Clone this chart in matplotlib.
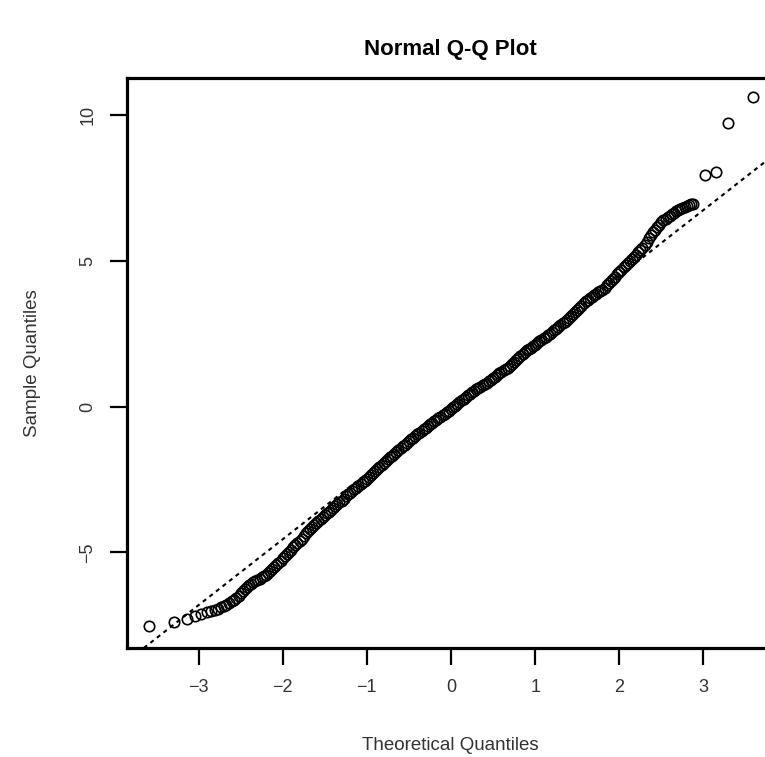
import numpy as np
import matplotlib
matplotlib.use('Agg')
import matplotlib.pyplot as plt

# Theoretical quantiles (x) and sample quantiles (y)
tail_low_x = [-3.59, -3.29, -3.14, -3.04, -2.97, -2.90, -2.85, -2.81, -2.77, -2.73, -2.70, -2.67, -2.64]
tail_low_y = [-7.52, -7.40, -7.30, -7.18, -7.10, -7.05, -7.00, -6.97, -6.93, -6.89, -6.85, -6.80, -6.75]

band_x = [-2.600, -2.575, -2.550, -2.525, -2.500, -2.475, -2.450, -2.425, -2.400, -2.375,
          -2.350, -2.325, -2.300, -2.275, -2.250, -2.225, -2.200, -2.175, -2.150, -2.125,
          -2.100, -2.075, -2.050, -2.025, -2.000, -1.975, -1.950, -1.925, -1.900, -1.875,
          -1.850, -1.825, -1.800, -1.775, -1.750, -1.725, -1.700, -1.675, -1.650, -1.625,
          -1.600, -1.575, -1.550, -1.525, -1.500, -1.475, -1.450, -1.425, -1.400, -1.375,
          -1.350, -1.325, -1.300, -1.275, -1.250, -1.225, -1.200, -1.175, -1.150, -1.125,
          -1.100, -1.075, -1.050, -1.025, -1.000, -0.975, -0.950, -0.925, -0.900, -0.875,
          -0.850, -0.825, -0.800, -0.775, -0.750, -0.725, -0.700, -0.675, -0.650, -0.625,
          -0.600, -0.575, -0.550, -0.525, -0.500, -0.475, -0.450, -0.425, -0.400, -0.375,
          -0.350, -0.325, -0.300, -0.275, -0.250, -0.225, -0.200, -0.175, -0.150, -0.125,
          -0.100, -0.075, -0.050, -0.025, 0.000, 0.025, 0.050, 0.075, 0.100, 0.125,
          0.150, 0.175, 0.200, 0.225, 0.250, 0.275, 0.300, 0.325, 0.350, 0.375,
          0.400, 0.425, 0.450, 0.475, 0.500, 0.525, 0.550, 0.575, 0.600, 0.625,
          0.650, 0.675, 0.700, 0.725, 0.750, 0.775, 0.800, 0.825, 0.850, 0.875,
          0.900, 0.925, 0.950, 0.975, 1.000, 1.025, 1.050, 1.075, 1.100, 1.125,
          1.150, 1.175, 1.200, 1.225, 1.250, 1.275, 1.300, 1.325, 1.350, 1.375,
          1.400, 1.425, 1.450, 1.475, 1.500, 1.525, 1.550, 1.575, 1.600, 1.625,
          1.650, 1.675, 1.700, 1.725, 1.750, 1.775, 1.800, 1.825, 1.850, 1.875,
          1.900, 1.925, 1.950, 1.975, 2.000, 2.025, 2.050, 2.075, 2.100, 2.125,
          2.150, 2.175, 2.200, 2.225, 2.250, 2.275, 2.300, 2.325, 2.350, 2.375,
          2.400, 2.425, 2.450, 2.475, 2.500, 2.525, 2.550, 2.575, 2.600, 2.625,
          2.650, 2.675, 2.700, 2.725, 2.750, 2.775, 2.800, 2.825, 2.850, 2.875]
band_y = [-6.68, -6.62, -6.55, -6.48, -6.40, -6.33, -6.25, -6.18, -6.12, -6.07,
          -6.03, -5.99, -5.95, -5.91, -5.86, -5.81, -5.76, -5.70, -5.64, -5.57,
          -5.50, -5.43, -5.35, -5.28, -5.20, -5.13, -5.05, -4.98, -4.90, -4.83,
          -4.76, -4.69, -4.62, -4.53, -4.44, -4.35, -4.27, -4.20, -4.13, -4.06,
          -4.00, -3.93, -3.86, -3.80, -3.73, -3.66, -3.60, -3.54, -3.48, -3.41,
          -3.35, -3.28, -3.22, -3.15, -3.08, -3.01, -2.95, -2.90, -2.84, -2.78,
          -2.72, -2.66, -2.60, -2.54, -2.48, -2.41, -2.34, -2.27, -2.20, -2.13,
          -2.06, -2.00, -1.93, -1.86, -1.80, -1.74, -1.68, -1.61, -1.55, -1.48,
          -1.42, -1.36, -1.30, -1.23, -1.17, -1.11, -1.06, -1.00, -0.95, -0.89,
          -0.84, -0.78, -0.73, -0.67, -0.61, -0.55, -0.50, -0.45, -0.40, -0.35,
          -0.30, -0.24, -0.19, -0.13, -0.08, -0.02, 0.03, 0.09, 0.15, 0.22,
          0.28, 0.34, 0.40, 0.45, 0.50, 0.55, 0.60, 0.64, 0.69, 0.73,
          0.78, 0.83, 0.88, 0.93, 0.98, 1.03, 1.09, 1.14, 1.20, 1.25,
          1.29, 1.33, 1.38, 1.45, 1.53, 1.60, 1.68, 1.75, 1.81, 1.87,
          1.93, 1.97, 2.02, 2.07, 2.12, 2.18, 2.24, 2.29, 2.35, 2.40,
          2.46, 2.51, 2.57, 2.62, 2.68, 2.74, 2.80, 2.86, 2.92, 2.98,
          3.05, 3.11, 3.18, 3.25, 3.32, 3.40, 3.47, 3.55, 3.62, 3.67,
          3.72, 3.77, 3.82, 3.87, 3.92, 3.97, 4.02, 4.09, 4.16, 4.23,
          4.30, 4.38, 4.46, 4.54, 4.62, 4.70, 4.78, 4.85, 4.93, 5.00,
          5.07, 5.14, 5.22, 5.30, 5.38, 5.46, 5.55, 5.66, 5.78, 5.89,
          6.00, 6.08, 6.17, 6.25, 6.33, 6.39, 6.45, 6.50, 6.55, 6.60,
          6.66, 6.70, 6.75, 6.79, 6.82, 6.85, 6.88, 6.91, 6.94, 6.97]

tail_high_x = [3.02, 3.15, 3.29, 3.59]
tail_high_y = [7.95, 8.05, 9.74, 10.62]

# reference line through the quartiles
line_slope = 2.26
line_intercept = -0.03

x_ticks = [-3, -2, -1, 0, 1, 2, 3]
y_ticks = [-5, 0, 5, 10]

theo = np.array(tail_low_x + band_x + tail_high_x)
samp = np.array(tail_low_y + band_y + tail_high_y)

plt.rcParams['font.family'] = ['Liberation Sans', 'DejaVu Sans']

fig = plt.figure(figsize=(7.65, 7.57), dpi=100)
ax = fig.add_axes([127 / 765, 109 / 757, 648 / 765, 570 / 757])

ax.plot(theo, samp, linestyle='none', marker='o', markersize=7.5,
        markerfacecolor='none', markeredgecolor='black', markeredgewidth=1.2,
        clip_on=False)
ax.axline((0, line_intercept), slope=line_slope, color='black',
          linewidth=1.5, linestyle=(0, (2, 2)))

ax.set_xlim(-3.85, 3.85)
ax.set_ylim(-8.28, 11.28)
ax.set_xticks(x_ticks)
ax.set_yticks(y_ticks)
ax.set_xticklabels([str(v) if v >= 0 else '\u2212' + str(-v) for v in x_ticks])
ax.set_yticklabels([str(v) if v >= 0 else '\u2212' + str(-v) for v in y_ticks],
                   rotation=90, va='center')
ax.tick_params(axis='both', direction='out', length=12, width=1.6,
               labelsize=13, labelcolor='#333333', pad=10)

for s in ax.spines.values():
    s.set_linewidth(2.3)

fig.text(450 / 765, 1 - 50 / 757, 'Normal Q-Q Plot', ha='center', va='center',
         fontsize=16, fontweight='bold')
fig.text(450 / 765, 1 - 745 / 757, 'Theoretical Quantiles', ha='center',
         va='center', fontsize=13.5, color='#333333')
fig.text(33 / 765, 1 - 363 / 757, 'Sample Quantiles', ha='center',
         va='center', rotation=90, fontsize=13.5, color='#333333')

fig.savefig('out.png', dpi=100)
